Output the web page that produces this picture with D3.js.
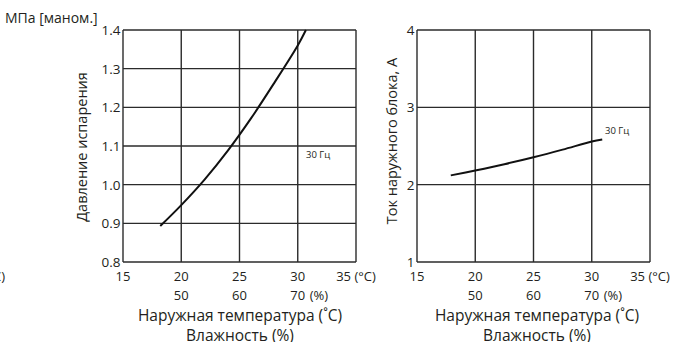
<!DOCTYPE html>
<html><head><meta charset="utf-8">
<script src="https://cdn.jsdelivr.net/npm/d3@7"></script>
<style>
body{margin:0;background:#fff;}
svg{display:block;}
text{font-family:"Open Sans","Noto Sans",sans-serif;fill:#231f20;}
</style></head><body>
<svg id="c" width="677" height="342"></svg>
<script>
// Data
const tempTicks = [15, 20, 25, 30, 35];
const humidityTicks = [null, 50, 60, 70, null];
const pressTicks = [0.8, 0.9, 1.0, 1.1, 1.2, 1.3, 1.4];
const currentTicks = [1, 2, 3, 4];
const pressTemp = [18.2, 20, 22, 24, 26, 28, 30, 30.7];
const pressValue = [0.893, 0.947, 1.013, 1.088, 1.172, 1.264, 1.36, 1.4];
const currTemp = [17.9, 20, 22.5, 25, 27.5, 30, 30.9];
const currValue = [2.12, 2.184, 2.265, 2.355, 2.453, 2.557, 2.583];
const seriesLabel = "30 Гц";

const svg = d3.select("#c");
const gridColor = "#2b2b2b";

function panel(opt){
  const g = svg.append("g");
  const x = d3.scaleLinear().domain([15,35]).range([opt.x0, opt.x1]);
  const y = d3.scaleLinear().domain(opt.yDomain).range([opt.y1, opt.y0]);
  g.selectAll(".vg").data(tempTicks).join("line")
    .attr("x1", d=>x(d)).attr("x2", d=>x(d)).attr("y1", opt.y0).attr("y2", opt.y1)
    .attr("stroke", gridColor).attr("stroke-width", 1.4);
  g.selectAll(".hg").data(opt.yTicks).join("line")
    .attr("y1", d=>y(d)).attr("y2", d=>y(d)).attr("x1", opt.x0).attr("x2", opt.x1)
    .attr("stroke", gridColor).attr("stroke-width", 1.4);
  g.selectAll(".yt").data(opt.yTicks).join("text")
    .attr("x", opt.x0 - 2.5).attr("y", d=>y(d)).attr("dy", "0.36em")
    .attr("text-anchor", "end").attr("font-size", 13.5)
    .text(d=>opt.yFmt(d));
  g.selectAll(".xt").data(tempTicks).join("text")
    .attr("x", d=>x(d)).attr("y", 281)
    .attr("text-anchor", "middle").attr("font-size", 13)
    .text(d=> d===35 ? "35 (°C)" : String(d));
  humidityTicks.forEach((h,i)=>{
    if(h===null) return;
    g.append("text").attr("x", x(tempTicks[i])).attr("y", 300)
      .attr("text-anchor","middle").attr("font-size",13).text(String(h));
    if(i===3){
      g.append("text").attr("x", x(tempTicks[i])+12).attr("y", 300)
        .attr("text-anchor","start").attr("font-size",13).text("(%)");
    }
  });
  g.append("text").attr("x", opt.xTitleX).attr("y", 321).attr("text-anchor","middle")
    .attr("font-size", 15.5).text("Наружная температура (˚C)");
  g.append("text").attr("x", opt.xTitleX).attr("y", 341).attr("text-anchor","middle")
    .attr("font-size", 15.5).text("Влажность (%)");
  g.append("text").attr("transform", `translate(${opt.yTitleX},${opt.yTitleY}) rotate(-90)`)
    .attr("text-anchor","middle").attr("font-size", 14.5).text(opt.yTitle);
  const line = d3.line().x(d=>x(d[0])).y(d=>y(d[1])).curve(d3.curveCatmullRom);
  g.append("path").datum(opt.xs.map((t,i)=>[t, opt.ys[i]]))
    .attr("d", line).attr("fill","none").attr("stroke","#111").attr("stroke-width",2);
  g.append("text").attr("x", opt.labelX).attr("y", opt.labelY).attr("font-size", 9.5)
    .text(seriesLabel);
  return {x,y};
}

panel({x0:123, x1:356, y0:30, y1:262, yDomain:[0.8,1.4], yTicks:pressTicks,
  yFmt:d=>d.toFixed(1), xs:pressTemp, ys:pressValue,
  yTitle:"Давление испарения", yTitleX:87, yTitleY:147, xTitleX:240,
  labelX:306, labelY:158});
panel({x0:417, x1:650, y0:30, y1:262, yDomain:[1,4], yTicks:currentTicks,
  yFmt:d=>String(d), xs:currTemp, ys:currValue,
  yTitle:"Ток наружного блока, А", yTitleX:397, yTitleY:141, xTitleX:537,
  labelX:605, labelY:134});

svg.append("text").attr("x", 5).attr("y", 23).attr("font-size", 14).text("МПа [маном.]");
svg.append("text").attr("x", 5).attr("y", 281).attr("text-anchor","end").attr("font-size",13).text("(°C)");
</script></body></html>
